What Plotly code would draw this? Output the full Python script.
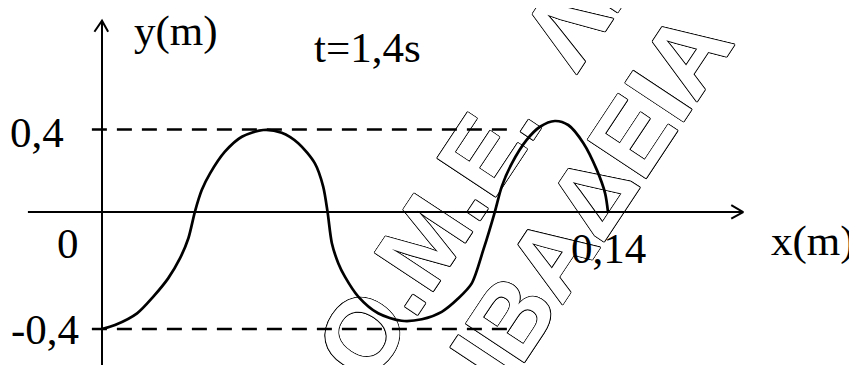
import plotly.graph_objects as go

# wave snapshot (x in m, y in m)
wave_x = [0.0, 0.0036, 0.0097, 0.0142, 0.0183, 0.0216, 0.0239, 0.0257, 0.0276, 0.0299,
          0.0340, 0.0387, 0.0446, 0.0497, 0.0543, 0.0589, 0.0612, 0.0624, 0.0636, 0.0654,
          0.0672, 0.0709, 0.0764, 0.0829, 0.0885, 0.0940, 0.0986, 0.1023, 0.1055, 0.1087,
          0.1106, 0.1134, 0.1175, 0.1212, 0.1253, 0.1290, 0.1332, 0.1369, 0.1392, 0.1400]
wave_y = [-0.400, -0.384, -0.337, -0.270, -0.197, -0.116, -0.036, 0.070, 0.157, 0.224,
          0.311, 0.371, 0.398, 0.387, 0.345, 0.264, 0.171, 0.070, -0.056, -0.137,
          -0.190, -0.270, -0.337, -0.367, -0.361, -0.331, -0.277, -0.217, -0.083, 0.070,
          0.171, 0.264, 0.358, 0.411, 0.434, 0.418, 0.345, 0.238, 0.144, 0.069]

amplitude_levels = [0.4, -0.4]
amplitude_labels = ["0,4", "-0,4"]
x_end = 0.14
x_end_label = "0,14"
time_label = "t=1,4s"
watermark = "Ο.Μ.Ε.\u00a0\u00a0ΛΙΒΑΔΕΙΑ"

# where the hand-drawn horizontal axis sits in the sketch
axis_level = 0.069

SERIF = "Liberation Serif, Times New Roman, serif"
BLACK = "#000000"

fig = go.Figure()

# dashed amplitude guides
for lvl in amplitude_levels:
    fig.add_trace(go.Scatter(
        x=[-0.0028, 0.1121], y=[lvl, lvl], mode="lines",
        line=dict(color=BLACK, width=2.5, dash="15px,10px"), hoverinfo="skip"))

# axes drawn like the sketch, with open arrow heads
fig.add_trace(go.Scatter(
    x=[-0.0205, 0.1774, None, 0.1741, 0.1774, 0.1741],
    y=[axis_level, axis_level, None, axis_level + 0.028, axis_level, axis_level - 0.026],
    mode="lines", line=dict(color=BLACK, width=2), hoverinfo="skip"))
fig.add_trace(go.Scatter(
    x=[0, 0, None, -0.0021, 0, 0.0017],
    y=[-0.6, 0.836, None, 0.792, 0.836, 0.792],
    mode="lines", line=dict(color=BLACK, width=2), hoverinfo="skip"))

# the wave itself
fig.add_trace(go.Scatter(
    x=wave_x, y=wave_y, mode="lines",
    line=dict(color=BLACK, width=2.7, shape="spline", smoothing=0.8),
    hoverinfo="skip"))

# outlined watermark, kept under the traces
outline = ("0.8px 0 0 #000, -0.8px 0 0 #000, 0 0.8px 0 #000, 0 -0.8px 0 #000, "
           "0.6px 0.6px 0 #000, -0.6px -0.6px 0 #000, 0.6px -0.6px 0 #000, -0.6px 0.6px 0 #000")
for cx, cy in [(0.6620, 1.0140), (0.5336, -0.0322)]:
    fig.add_shape(
        type="line", xref="paper", yref="paper",
        x0=cx - 0.001, y0=cy, x1=cx + 0.001, y1=cy,
        line=dict(color="rgba(0,0,0,0)", width=0), layer="below",
        label=dict(text=watermark, textangle=-56.5, textposition="middle",
                   xanchor="center", yanchor="middle", padding=0,
                   font=dict(family="Liberation Sans, Arial, sans-serif", size=102,
                             weight="bold", color="white", shadow=outline)))

# text labels
font = dict(family=SERIF, size=43, color=BLACK)
notes = [
    ("y(m)", 0.0206, 0.795),
    (time_label, 0.0735, 0.727),
    (amplitude_labels[0], -0.0181, amplitude_levels[0] - 0.014),
    (amplitude_labels[1], -0.0158, amplitude_levels[1]),
    ("0", -0.0094, -0.059),
    (x_end_label, x_end, -0.079),
    ("x(m)", 0.1966, -0.047),
]
for txt, x, y in notes:
    fig.add_annotation(x=x, y=y, text=txt, showarrow=False, font=font,
                       xanchor="center", yanchor="middle")

# the page adds an 8px body margin, so the figure is trimmed by that much
fig.update_layout(
    width=849, height=357,
    margin=dict(l=0, r=0, t=0, b=0),
    paper_bgcolor="white", plot_bgcolor="white",
    showlegend=False,
    xaxis=dict(visible=False, range=[-0.026008, 0.208893], fixedrange=True),
    yaxis=dict(visible=False, range=[-0.54431, 0.88713], fixedrange=True),
)

fig.write_html("out.html")
